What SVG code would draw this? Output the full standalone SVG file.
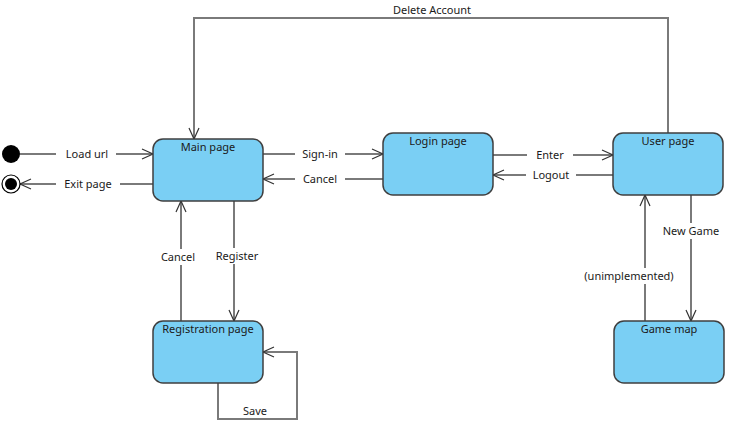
<svg xmlns="http://www.w3.org/2000/svg" width="733" height="424" viewBox="0 0 733 424">
<style>
.node rect{fill:#7acff4;stroke:#3f3f3f;stroke-width:1.5}
.t{font-family:"Noto Sans","Open Sans",sans-serif;font-size:11px;fill:#1a1a1a;text-anchor:middle}
.c path{fill:none;stroke:#7a7a7a;stroke-width:2}
.lb{fill:#ffffff}
</style>
<defs>
<marker id="a" markerUnits="userSpaceOnUse" markerWidth="14" markerHeight="14" refX="12" refY="6" orient="auto" viewBox="0 0 14 12">
<path d="M1,1 L12,6 L1,11" fill="none" stroke="#333" stroke-width="1.2"/>
</marker>
</defs>
<rect width="733" height="424" fill="#fff"/>
<g id="connectors" class="c">
<path d="M20,154 H153" marker-end="url(#a)"/>
<path d="M153,184 H20" marker-end="url(#a)"/>
<path d="M263,154 H383" marker-end="url(#a)"/>
<path d="M383,179 H263" marker-end="url(#a)"/>
<path d="M493,155 H613" marker-end="url(#a)"/>
<path d="M613,175 H493" marker-end="url(#a)"/>
<path d="M668,133 V18 H194 V139" marker-end="url(#a)"/>
<path d="M181,321 V201" marker-end="url(#a)"/>
<path d="M234,201 V321" marker-end="url(#a)"/>
<path d="M218,383 V419 H297 V352 H263" marker-end="url(#a)"/>
<path d="M691,195 V321" marker-end="url(#a)"/>
<path d="M645,321 V195" marker-end="url(#a)"/>
<g id="labels">
<rect class="lb" x="56" y="146" width="60" height="16"/>
<text class="t" x="87" y="158">Load url</text>
<rect class="lb" x="56" y="176" width="64" height="16"/>
<text class="t" x="88" y="188">Exit page</text>
<rect class="lb" x="295" y="146" width="50" height="16"/>
<text class="t" x="320" y="158">Sign-in</text>
<rect class="lb" x="295" y="171" width="50" height="16"/>
<text class="t" x="320" y="183">Cancel</text>
<rect class="lb" x="527" y="147" width="46" height="16"/>
<text class="t" x="550" y="159">Enter</text>
<rect class="lb" x="526" y="167" width="50" height="16"/>
<text class="t" x="551" y="179">Logout</text>
<text class="t" x="432" y="14">Delete Account</text>
<rect class="lb" x="155" y="249" width="46" height="16"/>
<text class="t" x="178" y="261">Cancel</text>
<rect class="lb" x="212" y="248" width="50" height="16"/>
<text class="t" x="237" y="260">Register</text>
<text class="t" x="255" y="415">Save</text>
<rect class="lb" x="660" y="223" width="62" height="16"/>
<text class="t" x="691" y="235">New Game</text>
<rect class="lb" x="584" y="268" width="90" height="16"/>
<text class="t" x="629" y="280">(unimplemented)</text>
</g>
</g>
<g id="initial"><circle cx="11" cy="154" r="9" fill="#000"/></g>
<g id="final"><circle cx="11" cy="184" r="9" fill="#fff" stroke="#000" stroke-width="1.2"/><circle cx="11" cy="184" r="6" fill="#000"/></g>
<g id="main" class="node"><rect x="153" y="139" width="110" height="62" rx="10"/><text class="t" x="208" y="151">Main page</text></g>
<g id="login" class="node"><rect x="383" y="133" width="110" height="62" rx="10"/><text class="t" x="438" y="145">Login page</text></g>
<g id="user" class="node"><rect x="613" y="133" width="110" height="62" rx="10"/><text class="t" x="668" y="145">User page</text></g>
<g id="registration" class="node"><rect x="153" y="321" width="110" height="62" rx="10"/><text class="t" x="208" y="333">Registration page</text></g>
<g id="gamemap" class="node"><rect x="614" y="321" width="110" height="62" rx="10"/><text class="t" x="669" y="333">Game map</text></g>
</svg>
